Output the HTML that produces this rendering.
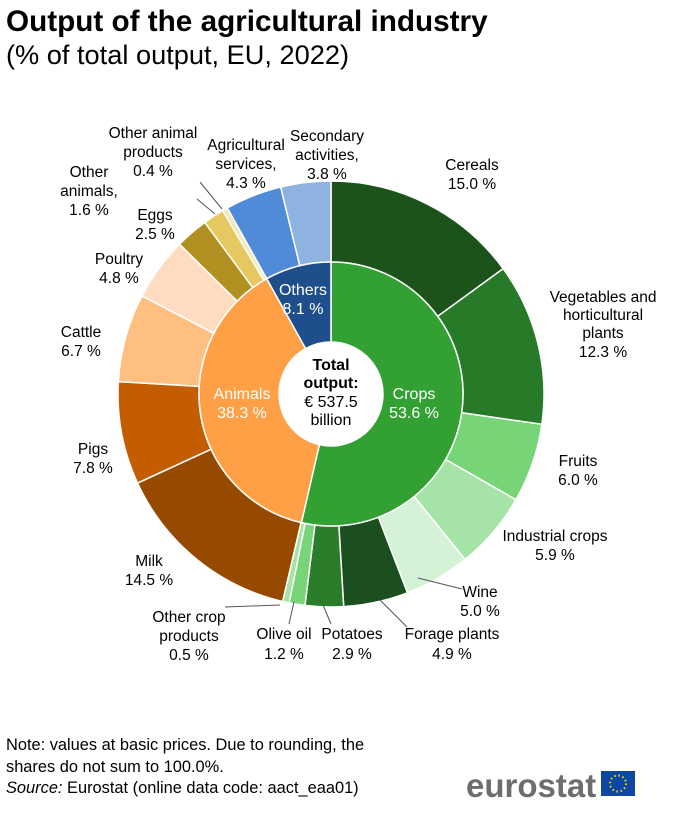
<!DOCTYPE html>
<html><head><meta charset="utf-8">
<style>
body{margin:0;background:#fff;width:683px;height:821px;overflow:hidden;font-family:"Liberation Sans",Arial,sans-serif;}
</style></head>
<body>
<svg id="s" width="683" height="821" xmlns="http://www.w3.org/2000/svg" font-family="Liberation Sans, Arial, sans-serif">
<text x="6" y="31" font-size="29.7" font-weight="bold" fill="#000">Output of the agricultural industry</text>
<text x="6" y="64" font-size="27.2" fill="#000">(% of total output, EU, 2022)</text>
<g id="chart"></g>
<g font-size="15.5" fill="#000" text-anchor="middle">
<text x="472" y="170">Cereals</text><text x="472" y="189">15.0 %</text>
<text x="603" y="302">Vegetables and</text><text x="603" y="320">horticultural</text><text x="603" y="338">plants</text><text x="603" y="357">12.3 %</text>
<text x="578" y="466">Fruits</text><text x="578" y="485">6.0 %</text>
<text x="555" y="541">Industrial crops</text><text x="555" y="560">5.9 %</text>
<text x="480" y="597">Wine</text><text x="480" y="616">5.0 %</text>
<text x="452" y="639">Forage plants</text><text x="452" y="659">4.9 %</text>
<text x="352" y="639">Potatoes</text><text x="352" y="659">2.9 %</text>
<text x="284" y="639">Olive oil</text><text x="284" y="659">1.2 %</text>
<text x="189" y="622">Other crop</text><text x="189" y="641">products</text><text x="189" y="660">0.5 %</text>
<text x="149" y="566">Milk</text><text x="149" y="585">14.5 %</text>
<text x="93" y="454">Pigs</text><text x="93" y="473">7.8 %</text>
<text x="81" y="337">Cattle</text><text x="81" y="356">6.7 %</text>
<text x="119" y="264">Poultry</text><text x="119" y="283">4.8 %</text>
<text x="155" y="220">Eggs</text><text x="155" y="239">2.5 %</text>
<text x="89" y="177">Other</text><text x="89" y="196">animals,</text><text x="89" y="215">1.6 %</text>
<text x="153" y="138">Other animal</text><text x="153" y="157">products</text><text x="153" y="176">0.4 %</text>
<text x="246" y="150">Agricultural</text><text x="246" y="169">services,</text><text x="246" y="188">4.3 %</text>
<text x="327" y="141">Secondary</text><text x="327" y="160">activities,</text><text x="327" y="179">3.8 %</text>
</g>
<g stroke="#555" stroke-width="1" fill="none">
<line x1="200" y1="182" x2="222" y2="209"/>
<line x1="197" y1="199" x2="215" y2="214"/>
<line x1="280" y1="605" x2="225" y2="607"/>
<line x1="294" y1="602" x2="289" y2="624"/>
<line x1="323" y1="605" x2="331" y2="624"/>
<line x1="380" y1="600" x2="407" y2="627"/>
<line x1="418" y1="578" x2="462" y2="589"/>
</g>
<g font-size="16" text-anchor="middle" fill="#fff">
<text x="414" y="399">Crops</text><text x="414" y="418">53.6 %</text>
<text x="242" y="399">Animals</text><text x="242" y="418">38.3 %</text>
<text x="303" y="295">Others</text><text x="303" y="314">8.1 %</text>
</g>
<g font-size="16" text-anchor="middle" fill="#000">
<text x="331" y="370" font-weight="bold">Total</text>
<text x="331" y="388" font-weight="bold">output:</text>
<text x="331" y="407">€ 537.5</text>
<text x="331" y="425">billion</text>
</g>
<g font-size="16.4" fill="#000">
<text x="6" y="750">Note: values at basic prices. Due to rounding, the</text>
<text x="6" y="772">shares do not sum to 100.0%.</text>
<text x="6" y="793"><tspan font-style="italic">Source:</tspan>  Eurostat (online data code: aact_eaa01)</text>
</g>
<text x="466" y="797" font-size="33" font-weight="bold" fill="#6d6d6d">eurostat</text>
<rect x="601" y="771" width="34" height="25" fill="#0e47a1"/>
<circle cx="618" cy="783.5" r="8" fill="none" stroke="#ffd700" stroke-width="2" stroke-dasharray="1.5 2.7"/>
</svg>
<script>
var cx=331,cy=394;
function arc(r0,r1,a0,a1,col){
 var f=function(a,r){var t=(a*3.6-90)*Math.PI/180;return [cx+r*Math.cos(t),cy+r*Math.sin(t)];};
 var L=(a1-a0)>50?1:0;var p0=f(a0,r1),p1=f(a1,r1),p2=f(a1,r0),p3=f(a0,r0);
 return '<path d="M'+p0+' A'+r1+','+r1+' 0 '+L+' 1 '+p1+' L'+p2+' A'+r0+','+r0+' 0 '+L+' 0 '+p3+' Z" fill="'+col+'" stroke="#fff" stroke-width="1.5"/>';
}
var outer=[[15.0,'#1b531b'],[12.3,'#277a27'],[6.0,'#77d477'],[5.9,'#a6e3a6'],[5.0,'#d6f2d6'],[4.9,'#1b4f1f'],[2.9,'#2a7d2a'],[1.2,'#77d477'],[0.5,'#a6e3a6'],
[14.5,'#964a00'],[7.8,'#c45c00'],[6.7,'#ffbf80'],[4.8,'#ffdcc0'],[2.5,'#b09020'],[1.6,'#e6c860'],[0.4,'#f5e8b8'],[4.3,'#4f8bd6'],[3.8,'#8fb3e0']];
var tot=0;outer.forEach(function(o){tot+=o[0];});
var h='',a=0;
outer.forEach(function(o){var b=a+o[0]*100/tot;h+=arc(132,213,a,b,o[1]);a=b;});
var inner=[[53.6,'#33a033'],[38.3,'#ffa047'],[8.1,'#1f4e8c']];a=0;
inner.forEach(function(o){var b=a+o[0];h+=arc(52,132,a,b,o[1]);a=b;});
document.getElementById('chart').innerHTML=h;
</script>
</body></html>
